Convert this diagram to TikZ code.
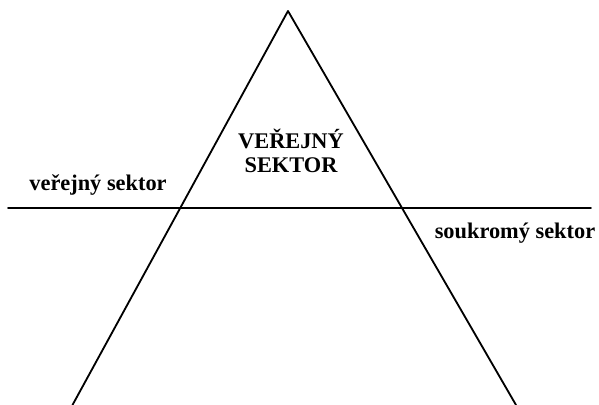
\documentclass[tikz,border=0pt]{standalone}
\usepackage{fontspec}
\setmainfont{Liberation Serif}
\usepackage{tikz}
\usetikzlibrary{positioning, calc}

\tikzset{
    sektorline/.style={black, line width=1.3pt, line cap=round, line join=round},
    sektorlabel/.style={font=\fontsize{15.9}{16.8}\selectfont\bfseries, inner sep=0pt, align=center}
}

\begin{document}
\begin{tikzpicture}[x=0.025cm, y=0.025cm]
        \useasboundingbox (0, 0) rectangle (599, 405);
        % triangle corners
        \coordinate (apex)  at (288, 394);
        \coordinate (left)  at (72.5, 0);
        \coordinate (right) at (516, 0);
        \draw[sektorline] (left) -- (apex) -- (right);
        % dividing line
        \coordinate (divA) at (8, 197);
        \coordinate (divB) at (591, 197);
        \draw[sektorline] (divA) -- (divB);
        % labels
        \node[sektorlabel] (verejny) at (291, 254) {VEŘEJNÝ\\SEKTOR};
        \node[sektorlabel] (verejnySm) at (98, 220) {veřejný sektor};
        \node[sektorlabel] (soukromy) at (515, 172) {soukromý sektor};
    \end{tikzpicture}
\end{document}
